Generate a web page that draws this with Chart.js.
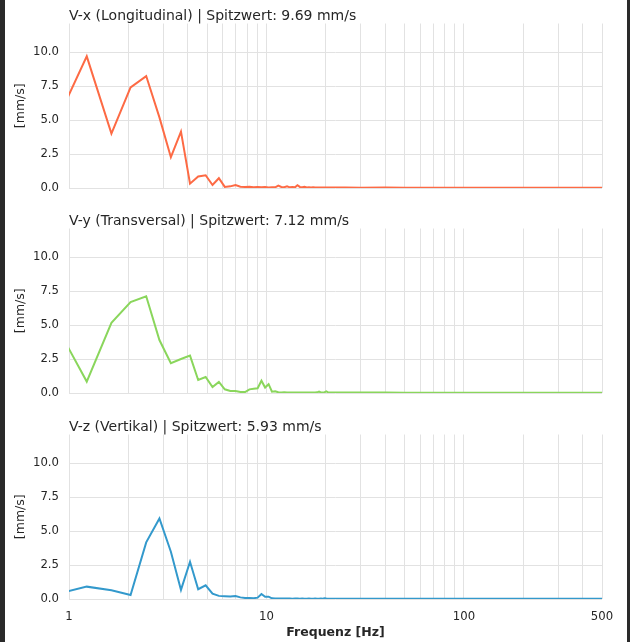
<!DOCTYPE html>
<html>
<head>
<meta charset="utf-8">
<script src="https://cdn.jsdelivr.net/npm/chart.js@4.4.1/dist/chart.umd.min.js"></script>
<style>
    html, body { margin: 0; padding: 0; background: #fff; }
    #wrap { position: relative; width: 630px; height: 642px; overflow: hidden; }
    .panel { position: absolute; left: 0; width: 630px; }
    .edge { position: absolute; top: 0; height: 642px; background: #2a2a2a; }
</style>
</head>
<body>
<div id="wrap">
    <div class="panel" style="top:0px;height:200px"><canvas id="c0"></canvas></div>
    <div class="panel" style="top:205px;height:200px"><canvas id="c1"></canvas></div>
    <div class="panel" style="top:411px;height:231px"><canvas id="c2"></canvas></div>
    <div class="edge" style="left:0;width:5px"></div>
    <div class="edge" style="left:627px;width:3px"></div>
</div>
<script>
// FFT bins (Hz), dense up to ~20 Hz, then a sparse tail to 500 Hz
const freqHz = [
    0.82, 1.23, 1.64, 2.05, 2.46, 2.87, 3.28, 3.69, 4.10, 4.51,
    4.92, 5.33, 5.74, 6.15, 6.56, 6.97, 7.38, 7.79, 8.20, 8.61,
    9.02, 9.43, 9.84, 10.25, 10.66, 11.07, 11.48, 11.89, 12.30, 12.71,
    13.12, 13.53, 13.94, 14.35, 14.76, 15.17, 15.58, 15.99, 16.40, 16.81,
    17.22, 17.63, 18.04, 18.45, 18.86, 19.27, 19.68, 20.09, 20.50,
    25, 30, 40, 50, 70, 100, 150, 200, 300, 400, 500
]

const vx = [
    4.17, 9.69, 4.0, 7.4, 8.24, 5.2, 2.27, 4.15, 0.32, 0.85,
    0.94, 0.22, 0.72, 0.08, 0.12, 0.22, 0.1, 0.08, 0.1, 0.06,
    0.07, 0.05, 0.08, 0.04, 0.06, 0.05, 0.18, 0.08, 0.06, 0.12,
    0.05, 0.07, 0.05, 0.2, 0.08, 0.06, 0.09, 0.04, 0.05, 0.04,
    0.05, 0.03, 0.04, 0.03, 0.04, 0.03, 0.03, 0.04, 0.03,
    0.03, 0.02, 0.03, 0.02, 0.02, 0.02, 0.02, 0.02, 0.02, 0.02, 0.02
]

const vy = [
    5.54, 0.84, 5.16, 6.69, 7.12, 3.9, 2.2, 2.5, 2.75, 0.96,
    1.18, 0.44, 0.81, 0.27, 0.15, 0.15, 0.08, 0.07, 0.27, 0.32,
    0.35, 0.9, 0.4, 0.65, 0.1, 0.12, 0.05, 0.04, 0.05, 0.04,
    0.03, 0.04, 0.03, 0.04, 0.03, 0.03, 0.04, 0.03, 0.03, 0.04,
    0.03, 0.03, 0.05, 0.1, 0.04, 0.03, 0.06, 0.12, 0.05,
    0.04, 0.03, 0.03, 0.02, 0.02, 0.02, 0.02, 0.02, 0.02, 0.02, 0.02
]

const vz = [
    0.28, 0.91, 0.65, 0.3, 4.17, 5.93, 3.48, 0.67, 2.74, 0.72,
    1.01, 0.39, 0.23, 0.2, 0.18, 0.22, 0.12, 0.08, 0.08, 0.06,
    0.1, 0.37, 0.17, 0.17, 0.05, 0.04, 0.03, 0.03, 0.04, 0.03,
    0.03, 0.02, 0.03, 0.03, 0.02, 0.03, 0.02, 0.02, 0.03, 0.02,
    0.02, 0.03, 0.02, 0.02, 0.03, 0.02, 0.05, 0.03, 0.02,
    0.02, 0.02, 0.02, 0.02, 0.02, 0.02, 0.02, 0.02, 0.02, 0.02, 0.02
]

const panelTitles = [
    'V-x (Longitudinal) | Spitzwert: 9.69 mm/s',
    'V-y (Transversal) | Spitzwert: 7.12 mm/s',
    'V-z (Vertikal) | Spitzwert: 5.93 mm/s'
]
const lineColors = ['#fd6a44', '#8ad65c', '#3399cc']
const yTicks = [0, 2.5, 5, 7.5, 10]
const yMax = 12.11
const xGrid = [1, 2, 3, 4, 5, 6, 7, 8, 9, 10, 20, 30, 40, 50, 60, 70, 80, 90, 100, 200, 300, 400, 500]
const xLabels = [1, 10, 100, 500]

const FONT = '"DejaVu Sans", sans-serif'
const TEXT = '#262626'
const GRID = '#e2e2e2'

const titlePlugin = {
    id: 'leftTitle',
    afterDraw(chart, args, opts) {
        const ctx = chart.ctx
        const area = chart.chartArea
        ctx.save()
        ctx.font = '14px ' + FONT
        ctx.fillStyle = TEXT
        ctx.textAlign = 'left'
        ctx.textBaseline = 'alphabetic'
        ctx.fillText(opts.text, area.left, area.top - 4)
        ctx.restore()
    }
}

const buildPanel = (idx, values, isBottom) => {
    const points = freqHz.map((f, i) => ({ x: f, y: values[i] }))

    return new Chart(document.getElementById('c' + idx), {
        type: 'line',
        data: {
            datasets: [{
                data: points,
                borderColor: lineColors[idx],
                borderWidth: 2,
                pointRadius: 0,
                tension: 0,
                clip: 0
            }]
        },
        options: {
            responsive: true,
            maintainAspectRatio: false,
            animation: false,
            layout: { padding: { top: 23.5, right: 28, left: 0, bottom: 0 } },
            plugins: {
                legend: { display: false },
                tooltip: { enabled: false },
                leftTitle: { text: panelTitles[idx] }
            },
            scales: {
                x: {
                    type: 'logarithmic',
                    min: 1,
                    max: 500,
                    border: { display: false },
                    grid: { color: GRID, lineWidth: 1, drawTicks: false },
                    afterBuildTicks: (s) => { s.ticks = xGrid.map(v => ({ value: v })) },
                    afterFit: (s) => { s.height = isBottom ? 43 : 12 },
                    ticks: {
                        display: isBottom,
                        autoSkip: false,
                        maxRotation: 0,
                        padding: 11,
                        color: TEXT,
                        font: { family: FONT, size: 11.7 },
                        callback: (v) => xLabels.includes(v) ? String(v) : ''
                    },
                    title: {
                        display: isBottom,
                        text: 'Frequenz [Hz]',
                        color: TEXT,
                        font: { family: FONT, size: 12.5, weight: 'bold' },
                        padding: { top: 0, bottom: 2 }
                    }
                },
                y: {
                    min: 0,
                    max: yMax,
                    border: { display: false },
                    grid: { color: GRID, lineWidth: 1, drawTicks: true, tickLength: 8, tickColor: 'rgba(0,0,0,0)' },
                    afterBuildTicks: (s) => { s.ticks = yTicks.map(v => ({ value: v })) },
                    afterFit: (s) => { s.width = 69 },
                    ticks: {
                        padding: 2,
                        color: TEXT,
                        font: { family: FONT, size: 11.7 },
                        callback: (v) => Number(v).toFixed(1)
                    },
                    title: {
                        display: true,
                        text: '[mm/s]',
                        color: TEXT,
                        font: { family: FONT, size: 12.5 },
                        padding: { top: 13.5, bottom: 0 }
                    }
                }
            }
        },
        plugins: [titlePlugin]
    })
}

buildPanel(0, vx, false)
buildPanel(1, vy, false)
buildPanel(2, vz, true)
</script>
</body>
</html>
